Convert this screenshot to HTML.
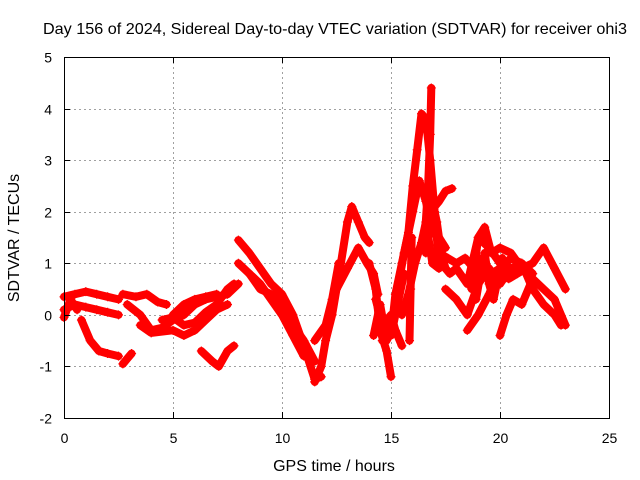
<!DOCTYPE html>
<html><head><meta charset="utf-8"><style>
body{margin:0;background:#fff;}
svg{display:block;font-family:"Liberation Sans",sans-serif;}
</style></head><body>
<svg id="chart" width="640" height="480" viewBox="0 0 640 480">
<rect width="640" height="480" fill="#fff"/>
<g id="grid"></g>
<g id="series"></g>
<rect x="64.5" y="57.5" width="545" height="361" fill="none" stroke="#000"/>
<g id="axes"></g>
<text x="335" y="34" font-size="16" text-anchor="middle" textLength="584" lengthAdjust="spacingAndGlyphs">Day 156 of 2024, Sidereal Day-to-day VTEC variation (SDTVAR) for receiver ohi3</text>
<text x="334" y="471" font-size="16" text-anchor="middle">GPS time / hours</text>
<text x="19" y="238" font-size="16" text-anchor="middle" transform="rotate(-90 19 238)">SDTVAR / TECUs</text>
</svg>
<script>
const xTicks=[0,5,10,15,20,25];
const yTicks=[-2,-1,0,1,2,3,4,5];
const tracks=[
[[0,0.35],[0.5,0.4],[1,0.45],[1.5,0.4],[2,0.35],[2.5,0.3]],
[[0,0.1],[0.5,0.2],[1,0.15],[1.5,0.1],[2,0.05],[2.5,0.0]],
[[0,-0.05],[0.3,0.3],[0.6,0.1]],
[[0.8,-0.1],[1.2,-0.5],[1.6,-0.7],[2,-0.75],[2.5,-0.8]],
[[2.7,-0.95],[2.9,-0.85],[3.1,-0.75]],
[[2.7,0.4],[3.3,0.35],[3.8,0.4],[4.3,0.25],[4.7,0.2]],
[[2.9,0.2],[3.5,0.0],[4,-0.3],[4.5,-0.25],[5,-0.1],[5.5,0.0],[6,0.2],[6.5,0.3],[7,0.35],[7.5,0.4],[8,0.6]],
[[3.5,-0.2],[4,-0.35],[5,-0.3],[5.5,-0.4],[6,-0.3],[6.5,-0.1],[7,0.1],[7.5,0.2]],
[[4.5,-0.1],[5,-0.05],[5.5,-0.2],[6,-0.15],[6.5,0.05],[7,0.2],[7.5,0.5],[7.8,0.6]],
[[5,0.0],[5.5,0.2],[6,0.3],[6.5,0.35],[7,0.4]],
[[6.3,-0.7],[6.8,-0.9],[7.1,-1.0],[7.5,-0.7],[7.8,-0.6]],
[[8,1.45],[8.5,1.2],[9,0.9],[9.5,0.6],[10,0.4],[10.5,0.0],[11,-0.6],[11.5,-1.25],[11.8,-1.2]],
[[8,1.0],[8.5,0.8],[9,0.5],[9.5,0.4],[10,0.2],[10.5,-0.2],[11,-0.5],[11.5,-0.9]],
[[8.5,0.8],[9,0.6],[9.5,0.3],[10,0.0],[10.5,-0.4],[11,-0.8]],
[[11.5,-1.3],[11.8,-1.0],[12,-0.5],[12.3,0.0],[12.5,0.5],[12.7,1.0],[13,1.8],[13.2,2.1],[13.5,1.8],[13.8,1.5],[14,1.4]],
[[11.5,-0.5],[12,-0.2],[12.3,0.3],[12.6,1.0]],
[[12.5,0.5],[13,0.9],[13.5,1.3],[13.9,1.0],[14.2,0.8],[14.4,0.4]],
[[14,1.0],[14.3,0.5],[14.5,-0.3],[14.8,-0.7],[15,-1.2]],
[[14.3,0.3],[14.6,-0.2],[15,0.0],[15.2,-0.3],[15.5,-0.6]],
[[14.6,-0.5],[14.8,-0.2],[15,-0.4],[15.2,0.4],[15.5,1.0],[15.8,1.6],[16,2.5],[16.2,3.2],[16.4,3.9],[16.6,3.8],[16.8,3.0],[17,2.0],[17.2,1.0]],
[[15.3,0.5],[15.6,1.2],[16,2.0],[16.3,2.6],[16.6,2.2],[16.9,1.6],[17.2,1.5],[17.5,1.3]],
[[15.5,0.0],[15.8,0.4],[16.1,1.0],[16.4,1.4],[16.6,1.8],[16.9,1.0],[17.2,0.9]],
[[16.8,2.0],[17,2.1],[17.2,2.2],[17.5,2.4],[17.8,2.45]],
[[17.3,1.0],[17.7,0.8],[18,0.9],[18.5,0.6],[19,1.5],[19.5,1.3],[20,1.0],[20.5,0.9],[21,1.0],[21.5,0.8]],
[[17.5,0.5],[18,0.3],[18.5,0.0],[19,0.6],[19.5,0.9],[20,0.6],[20.5,0.9]],
[[18.7,0.5],[19,1.5],[19.3,1.7],[19.6,1.2],[20,1.3],[20.5,1.2],[21,0.9],[21.5,1.0],[22,1.3],[22.5,0.9],[23,0.5]],
[[20,-0.4],[20.3,0.0],[20.6,0.3],[21,0.2],[21.5,0.7],[22,0.5],[22.5,0.3],[23,-0.2]],
[[18.5,-0.3],[19,0.0],[19.5,0.4],[20,0.9],[20.5,1.1],[21,1.0],[21.5,0.5],[22,0.2],[22.5,0.0],[22.8,-0.2]],
[[16.55,1.5],[16.7,2.5],[16.8,3.5],[16.85,4.4]],
[[15.85,-0.5],[15.9,0.5],[15.95,1.5]],
[[17.2,1.2],[17.6,1.1],[18,1.0],[18.4,1.1],[18.8,0.9],[19.2,1.1],[19.6,0.8],[20,0.9],[20.4,0.7],[20.8,0.8],[21.2,0.9]],
[[18.9,0.3],[19.1,0.8],[19.3,1.2],[19.5,0.6],[19.7,0.3],[19.9,0.7],[20.1,1.1]],
[[16.6,1.2],[16.9,2.2],[17.1,1.8],[17.3,1.2],[17.5,0.9]],
[[14.2,-0.4],[14.5,0.2],[14.8,-0.5],[15.1,-0.2],[15.3,0.2],[15.6,0.8]]
];
const NS='http://www.w3.org/2000/svg';
const X0=64,X1=609,Y0=418,Y1=57;
function sx(h){return X0+(h-0)/(25-0)*(X1-X0);}
function sy(v){return Y0-(v+2)/(5+2)*(Y0-Y1);}
const grid=document.getElementById('grid'),axes=document.getElementById('axes'),ser=document.getElementById('series');
function mk(tag,attrs,parent){const e=document.createElementNS(NS,tag);for(const k in attrs)e.setAttribute(k,attrs[k]);parent.appendChild(e);return e;}
xTicks.forEach(t=>{const x=Math.round(sx(t))+0.5;
 if(t>0&&t<25){const g=mk('line',{x1:x,x2:x,y1:Y1,y2:Y0,stroke:'#a0a0a0','stroke-dasharray':'2,3'},grid);
 }
 mk('line',{x1:x,x2:x,y1:Y0,y2:Y0-6,stroke:'#000'},axes);
 mk('line',{x1:x,x2:x,y1:Y1,y2:Y1+6,stroke:'#000'},axes);
 const l=mk('text',{x:x,y:443,'font-size':14,'text-anchor':'middle'},axes);l.textContent=t;
 });
yTicks.forEach(t=>{const y=Math.round(sy(t))+0.5;
 if(t>-2&&t<5){const g=mk('line',{x1:X0,x2:X1,y1:y,y2:y,stroke:'#a0a0a0','stroke-dasharray':'2,3'},grid);
 }
 mk('line',{x1:X0,x2:X0+6,y1:y,y2:y,stroke:'#000'},axes);
 mk('line',{x1:X1,x2:X1-6,y1:y,y2:y,stroke:'#000'},axes);
 const l=mk('text',{x:52,y:y+5,'font-size':14,'text-anchor':'end'},axes);l.textContent=t;
 });
tracks.forEach(tr=>{
 const p=mk('polyline',{points:tr.map(d=>sx(d[0]).toFixed(1)+','+sy(d[1]).toFixed(1)).join(' '),fill:'none',stroke:'#ff0000','stroke-width':8,'stroke-linejoin':'round','stroke-linecap':'round'},ser);
 
 
 tr.forEach(d=>{const m=mk('path',{d:`M${sx(d[0])-4.5},${sy(d[1])}h9M${sx(d[0])},${sy(d[1])-4.5}v9`,stroke:'#ff0000','stroke-width':1.2},ser);
  
  });
});
</script>
</body></html>
